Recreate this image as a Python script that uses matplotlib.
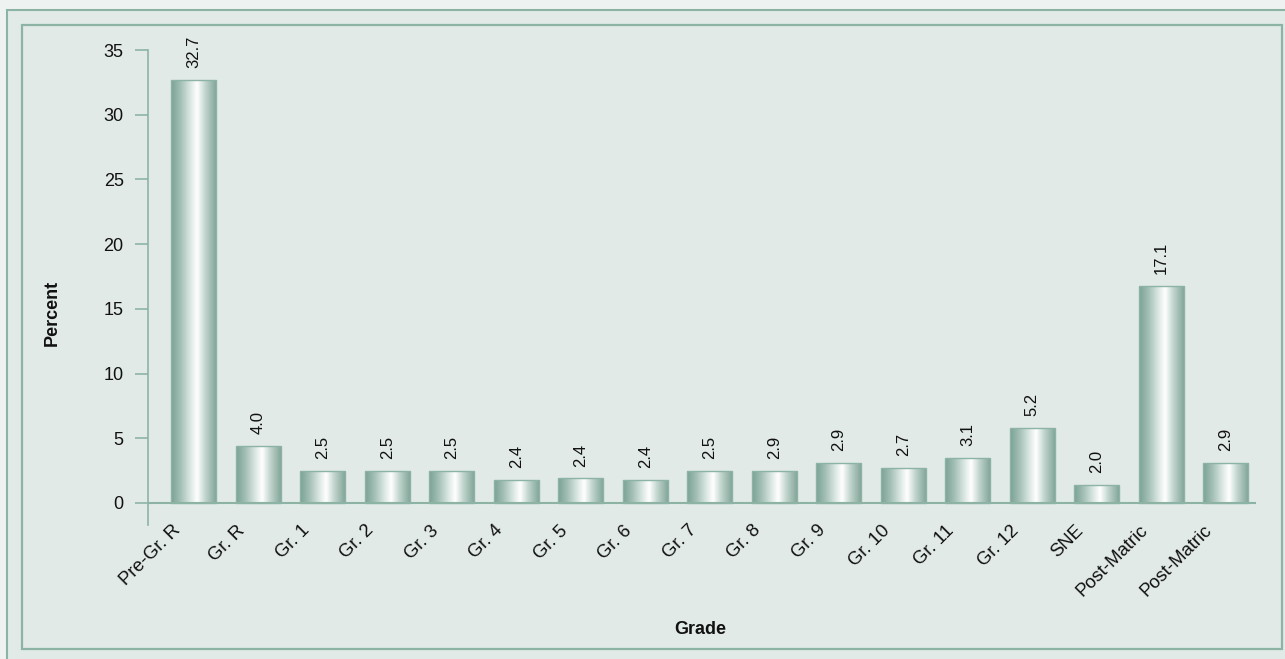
import matplotlib
matplotlib.use("Agg")
import matplotlib.pyplot as plt
import numpy as np
from matplotlib.colors import LinearSegmentedColormap
from matplotlib.patches import Rectangle
from matplotlib.transforms import ScaledTranslation
from matplotlib import font_manager

categories = ["Pre-Gr. R", "Gr. R", "Gr. 1", "Gr. 2", "Gr. 3", "Gr. 4", "Gr. 5",
              "Gr. 6", "Gr. 7", "Gr. 8", "Gr. 9", "Gr. 10", "Gr. 11", "Gr. 12",
              "SNE", "Post-Matric", "Post-Matric"]
# bar heights as drawn in the reference
percent = [32.7, 4.4, 2.5, 2.5, 2.5, 1.8, 1.9, 1.8, 2.5, 2.5, 3.1, 2.7, 3.5,
           5.8, 1.4, 16.8, 3.1]
# value labels as printed in the reference
value_labels = ["32.7", "4.0", "2.5", "2.5", "2.5", "2.4", "2.4", "2.4", "2.5",
                "2.9", "2.9", "2.7", "3.1", "5.2", "2.0", "17.1", "2.9"]
yticks = [0, 5, 10, 15, 20, 25, 30, 35]

W, H = 1285, 659
DPI = 100
plt.rcParams["font.family"] = ["Liberation Sans", "DejaVu Sans"]

names = {f.name for f in font_manager.fontManager.ttflist}
if "Liberation Sans Narrow" in names:
    vfam, vsize = ["Liberation Sans Narrow", "Liberation Sans"], 14
else:
    vfam, vsize = ["Liberation Sans", "DejaVu Sans"], 12

outer_bg = "#eef3f1"
panel_bg = "#e1eae7"
line_col = "#8db3a5"

fig = plt.figure(figsize=(W / DPI, H / DPI), dpi=DPI, facecolor=outer_bg)

def px(x, y):
    return x / W, 1 - y / H

# outer panel
x0, y0 = px(7, 10)
fig.patches.append(Rectangle((x0, -0.05), 1.1, y0 + 0.05, transform=fig.transFigure,
                             facecolor=panel_bg, edgecolor=line_col, lw=1.5, zorder=-2))
# inner frame
ix0, iy1 = px(22, 25)
ix1, iy0 = px(1282, 649)
fig.patches.append(Rectangle((ix0, iy0), ix1 - ix0, iy1 - iy0, transform=fig.transFigure,
                             facecolor="none", edgecolor=line_col, lw=1.6, zorder=-1))

left, right = 148, 1256
top, bottom = 50, 525
ax = fig.add_axes([left / W, 1 - bottom / H, (right - left) / W, (bottom - top) / H])
ax.set_facecolor("none")
ax.set_zorder(5)

x = np.arange(len(categories))
bars = ax.bar(x, percent, width=0.70, color="none", edgecolor="#8cb3a5",
              linewidth=1.0, zorder=3)

cmap = LinearSegmentedColormap.from_list(
    "cyl", [(0.0, "#7aa194"), (0.22, "#a6c2b8"), (0.45, "#e2ece8"),
            (0.57, "#ffffff"), (0.75, "#c0d4cc"), (1.0, "#7ea396")])
grad = np.linspace(0, 1, 256).reshape(1, -1)
for b in bars:
    bx, bw, bh = b.get_x(), b.get_width(), b.get_height()
    im = ax.imshow(grad, cmap=cmap, aspect="auto", extent=(bx, bx + bw, 0, bh),
                   zorder=2, interpolation="bicubic")
    im.set_clip_path(b)

for xi, h, lab in zip(x, percent, value_labels):
    ax.annotate(lab, (xi, h), xytext=(0, 8.5), textcoords="offset points",
                rotation=90, ha="center", va="bottom", fontsize=vsize,
                family=vfam, color="#111111")

ax.set_xlim(-0.71, len(categories) - 1 + 0.47)
ax.set_ylim(-1.7, 35)
ax.set_yticks(yticks)
ax.tick_params(axis="y", length=9.5, width=1.2, color=line_col, pad=8,
               labelsize=13, labelcolor="#111111")
ax.set_xticks(x)
ax.set_xticklabels(categories, rotation=45, ha="right", va="center",
                   rotation_mode="anchor", fontsize=13.3, color="#111111")
ax.tick_params(axis="x", length=0, pad=0)
off = ScaledTranslation(-16 / DPI, -3 / DPI, fig.dpi_scale_trans)
for t in ax.get_xticklabels():
    t.set_transform(t.get_transform() + off)

for s in ["top", "right", "bottom"]:
    ax.spines[s].set_visible(False)
ax.spines["left"].set_color(line_col)
ax.spines["left"].set_linewidth(1.2)
ax.axhline(0, color=line_col, lw=1.5, zorder=4)

fx, fy = px(52, 313)
fig.text(fx, fy, "Percent", rotation=90, ha="center", va="center",
         fontsize=13, fontweight="bold", color="#111111")
gx, gy = px(700, 629)
fig.text(gx, gy, "Grade", ha="center", va="center", fontsize=13,
         fontweight="bold", color="#111111")

fig.savefig("out.png", dpi=DPI, facecolor=outer_bg)
